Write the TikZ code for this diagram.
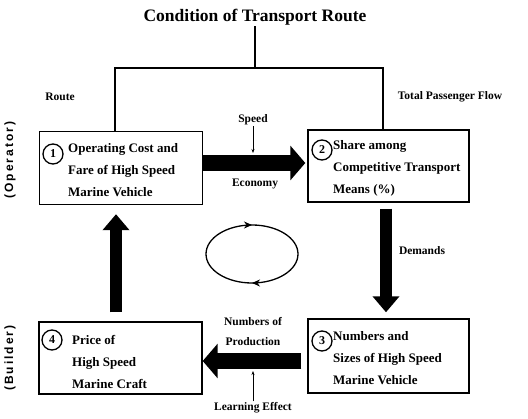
\documentclass[tikz,border=0pt]{standalone}
\usepackage{fontspec}
\setmainfont{Liberation Serif}
\setsansfont{Liberation Sans}
\usetikzlibrary{arrows.meta,decorations.markings}
\begin{document}
\begin{tikzpicture}[x=1pt,y=-1pt,
  box/.style={draw,line width=1.4pt,inner sep=0pt},
  num/.style={draw,circle,line width=1.3pt,inner sep=1pt,minimum size=20pt,font=\fontsize{12}{12}\selectfont\bfseries},
  btxt/.style={anchor=west,align=left,inner sep=0pt,font=\fontsize{13}{22}\selectfont\bfseries},
  lbl/.style={font=\fontsize{11.5}{13}\selectfont\bfseries,align=center,inner sep=1pt},
  hbig/.style={line width=16pt,-{Triangle[length=15pt,width=34pt]}},
  vbig/.style={line width=12pt,-{Triangle[length=16pt,width=26pt]}},
  thin/.style={line width=0.8pt,-{Stealth[length=4pt,width=3pt]}},
  conn/.style={line width=1.2pt}]
\useasboundingbox (0,0) rectangle (528,419);
% title and route lines
\node[font=\fontsize{17.5}{17.5}\selectfont\bfseries,inner sep=1pt] (title) at (255,17) {Condition of Transport Route};
\coordinate (tl) at (115,68);
\coordinate (tr) at (383,68);
% boxes
\node[box,minimum width=163pt,minimum height=73pt] (b1) at (121,168) {};
\node[box,minimum width=161pt,minimum height=72pt] (b2) at (388.5,166) {};
\node[box,minimum width=161pt,minimum height=74pt] (b3) at (388.5,356) {};
\node[box,minimum width=163pt,minimum height=72pt] (b4) at (120.5,358) {};
\draw[conn] (title.south) -- (title.south |- tl);
\draw[conn] (b1.north -| tl) -- (tl) -- (tr) -- (b2.north -| tr);
% box contents
\node[num] (c1) at (53,154) {1};
\node[btxt] (t1) at (68,170) {Operating Cost and\\Fare of High Speed\\Marine Vehicle};
\node[num] (c2) at (322,150) {2};
\node[btxt] (t2) at (333,168) {Share among\\Competitive Transport\\Means (\%)};
\node[num] (c3) at (322,341) {3};
\node[btxt] (t3) at (333,358) {Numbers and\\Sizes of High Speed\\Marine Vehicle};
\node[num] (c4) at (52,340) {4};
\node[btxt] (t4) at (72,362) {Price of\\High Speed\\Marine Craft};
% big arrows
\draw[hbig] (b1.east |- 0,163) -- ([xshift=-2pt]b2.west |- 0,163);
\draw[vbig] ([yshift=-6pt]b2.south -| 386,0) -- ([yshift=6pt]b3.north -| 386,0);
\draw[hbig] ([xshift=-6pt]b3.west |- 0,361) -- (b4.east |- 0,361);
\draw[vbig] ([yshift=9pt]b4.north -| 116,0) -- ([yshift=-9pt]b1.south -| 116,0);
% labels
\node[lbl] (rt) at (60,97) {Route};
\node[lbl] (tpf) at (450,97) {Total Passenger Flow};
\node[lbl] (sp) at (253,120) {Speed};
\coordinate (spe) at (253,153);
\draw[thin] (sp.south) -- (spe);
\node[lbl] (ec) at (255,184) {Economy};
\node[lbl] (dm) at (422,251) {Demands};
\node[lbl,font=\fontsize{11.5}{20}\selectfont\bfseries] (np) at (253,332) {Numbers of\\Production};
\node[lbl] (le) at (253,408) {Learning Effect};
\coordinate (lee) at (253,371);
\draw[thin] (le.north) -- (lee);
\node[rotate=90,font=\fontsize{12}{12}\selectfont\sffamily\bfseries] (op) at (10,160) {(\,O\,p\,e\,r\,a\,t\,o\,r\,)};
\node[rotate=90,font=\fontsize{12}{12}\selectfont\sffamily\bfseries] (bd) at (10,358) {(\,B\,u\,i\,l\,d\,e\,r\,)};
% cycle ellipse
\draw[line width=1.3pt,postaction={decorate},decoration={markings,
  mark=at position 0.25 with {\arrow{Stealth[length=8pt,width=7pt]}},
  mark=at position 0.75 with {\arrow{Stealth[length=8pt,width=7pt]}}}]
  (252,254) ellipse (46 and 29);
\end{tikzpicture}
\end{document}
